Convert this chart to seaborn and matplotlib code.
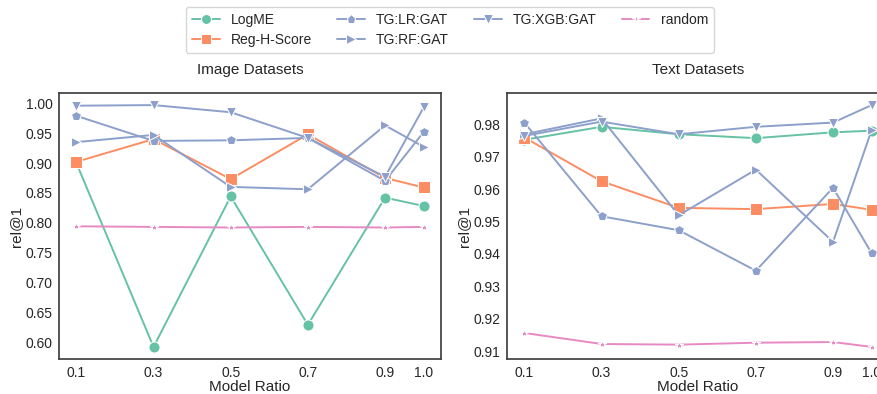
import matplotlib
matplotlib.use("Agg")
import matplotlib.pyplot as plt
import pandas as pd
import seaborn as sns

ratios = [0.1, 0.3, 0.5, 0.7, 0.9, 1.0]
ratio_labels = ["0.1", "0.3", "0.5", "0.7", "0.9", "1.0"]
methods = ["LogME", "Reg-H-Score", "TG:LR:GAT", "TG:RF:GAT", "TG:XGB:GAT", "random"]

# rel@1 on image datasets
image_logme = [0.900, 0.592, 0.844, 0.629, 0.842, 0.828]
image_regh = [0.902, 0.940, 0.873, 0.948, 0.875, 0.859]
image_lr = [0.979, 0.937, 0.938, 0.942, 0.870, 0.952]
image_rf = [0.935, 0.947, 0.860, 0.856, 0.963, 0.927]
image_xgb = [0.996, 0.997, 0.985, 0.942, 0.877, 0.993]
image_random = [0.794, 0.793, 0.792, 0.793, 0.792, 0.793]

# rel@1 on text datasets
text_logme = [0.9752, 0.9792, 0.9769, 0.9757, 0.9775, 0.9780]
text_regh = [0.9759, 0.9624, 0.9542, 0.9538, 0.9554, 0.9536]
text_lr = [0.9805, 0.9516, 0.9473, 0.9348, 0.9604, 0.9402]
text_rf = [0.9769, 0.9818, 0.9519, 0.9660, 0.9437, 0.9782]
text_xgb = [0.9764, 0.9808, 0.9769, 0.9792, 0.9805, 0.9859]
text_random = [0.9156, 0.9122, 0.9120, 0.9126, 0.9128, 0.9113]

image_yticks = [0.60, 0.65, 0.70, 0.75, 0.80, 0.85, 0.90, 0.95, 1.00]
text_yticks = [0.91, 0.92, 0.93, 0.94, 0.95, 0.96, 0.97, 0.98]


def to_long(series):
    rows = []
    for name, vals in zip(methods, series):
        for r, v in zip(ratios, vals):
            rows.append({"Model Ratio": r, "rel@1": v, "method": name})
    return pd.DataFrame(rows)


image_df = to_long([image_logme, image_regh, image_lr, image_rf, image_xgb, image_random])
text_df = to_long([text_logme, text_regh, text_lr, text_rf, text_xgb, text_random])

sns.set_theme(style="white")
plt.rcParams["font.family"] = ["Liberation Sans", "DejaVu Sans"]
plt.rcParams["axes.edgecolor"] = "0.25"
plt.rcParams["axes.linewidth"] = 1.25

set2 = sns.color_palette("Set2")
palette = {
    "LogME": set2[0],
    "Reg-H-Score": set2[1],
    "TG:LR:GAT": set2[2],
    "TG:RF:GAT": set2[2],
    "TG:XGB:GAT": set2[2],
    "random": set2[3],
}
markers = {
    "LogME": "o",
    "Reg-H-Score": "s",
    "TG:LR:GAT": "p",
    "TG:RF:GAT": ">",
    "TG:XGB:GAT": "v",
    "random": "*",
}
sizes = {"LogME": 8, "Reg-H-Score": 8, "TG:LR:GAT": 7.5, "TG:RF:GAT": 7.5,
         "TG:XGB:GAT": 7.5, "random": 6}

W, H = 877, 394
fig = plt.figure(figsize=(W / 100, H / 100), dpi=100)
ax1 = fig.add_axes([59 / W, 1 - 359 / H, 382 / W, 266 / H])
ax2 = fig.add_axes([507 / W, 1 - 359 / H, 382 / W, 266 / H])

for ax, df, title, yt in [(ax1, image_df, "Image Datasets", image_yticks),
                          (ax2, text_df, "Text Datasets", text_yticks)]:
    sns.lineplot(data=df, x="Model Ratio", y="rel@1", hue="method", style="method",
                 hue_order=methods, style_order=methods, palette=palette,
                 markers=markers, dashes=False, linewidth=1.4, ax=ax, legend=True)
    ax.set_xticks(ratios)
    ax.set_xticklabels(ratio_labels)
    ax.set_yticks(yt)
    ax.set_yticklabels([f"{v:.2f}" for v in yt])
    ax.tick_params(axis="x", labelsize=10, pad=5, length=0)
    ax.tick_params(axis="y", labelsize=10, pad=4.5, length=0)
    ax.set_xlabel("Model Ratio", fontsize=11, labelpad=0)
    ax.set_ylabel("rel@1", fontsize=11, labelpad=2)
    ax.set_title(title, fontsize=11, pad=14)
    for line, name in zip(ax.get_lines(), methods):
        line.set_markersize(sizes[name])

handles, labels = ax1.get_legend_handles_labels()
ax1.get_legend().remove()
ax2.get_legend().remove()
for h, name in zip(handles, labels):
    h.set_markersize(sizes[name] * 0.9)
fig.legend(handles, labels, loc="upper center", bbox_to_anchor=(0.513, 1.0),
           ncol=4, fontsize=10, frameon=True, columnspacing=1.8,
           handlelength=2.0, borderpad=0.45, labelspacing=0.4)

fig.savefig("out.png", dpi=100)
